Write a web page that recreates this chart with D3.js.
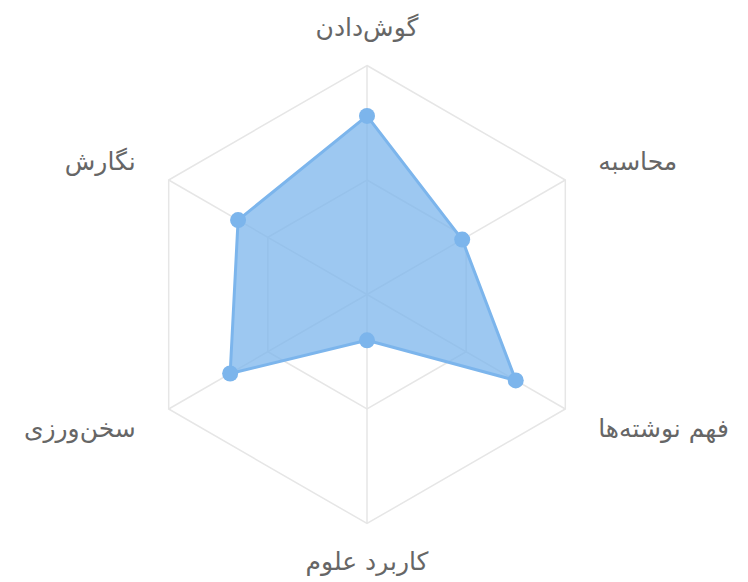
<!DOCTYPE html>
<html>
<head>
<meta charset="utf-8">
<script src="https://cdn.jsdelivr.net/npm/d3@7"></script>
<style>
  body { margin: 0; background: #fff; }
  .label { font-family: "DejaVu Sans", sans-serif; font-size: 25px; fill: #666; }
</style>
</head>
<body>
<div id="chart"></div>
<script>
const categories = ["گوش\u200cدادن", "محاسبه", "فهم نوشته\u200cها", "کاربرد علوم", "سخن\u200cورزی", "نگارش"];
const values = [78, 48, 75, 20, 69, 65];
const gridLevels = [50, 100];

const width = 748, height = 582;
const cx = 367, cy = 294.5, radius = 229;

const svg = d3.select("#chart").append("svg")
  .attr("width", width)
  .attr("height", height);

const g = svg.append("g").attr("transform", `translate(${cx},${cy})`);

const angle = d3.scalePoint()
  .domain(categories)
  .range([0, 2 * Math.PI * (categories.length - 1) / categories.length]);

const r = d3.scaleLinear().domain([0, 100]).range([0, radius]);

const line = d3.lineRadial()
  .angle(d => angle(d.cat))
  .radius(d => r(d.v))
  .curve(d3.curveLinearClosed);

// grid polygons
g.selectAll("path.grid")
  .data(gridLevels)
  .enter().append("path")
  .attr("class", "grid")
  .attr("d", lv => line(categories.map(c => ({ cat: c, v: lv }))))
  .attr("fill", "none")
  .attr("stroke", "#e6e6e6")
  .attr("stroke-width", 1.5);

// spokes
g.selectAll("line.spoke")
  .data(categories)
  .enter().append("line")
  .attr("class", "spoke")
  .attr("x1", 0).attr("y1", 0)
  .attr("x2", c => r(100) * Math.sin(angle(c)))
  .attr("y2", c => -r(100) * Math.cos(angle(c)))
  .attr("stroke", "#e6e6e6")
  .attr("stroke-width", 1.5);

const series = categories.map((c, i) => ({ cat: c, v: values[i] }));

g.append("path")
  .datum(series)
  .attr("d", line)
  .attr("fill", "#7cb5ec")
  .attr("fill-opacity", 0.75)
  .attr("stroke", "#7cb5ec")
  .attr("stroke-width", 3)
  .attr("stroke-linejoin", "round");

g.selectAll("circle.pt")
  .data(series)
  .enter().append("circle")
  .attr("class", "pt")
  .attr("cx", d => r(d.v) * Math.sin(angle(d.cat)))
  .attr("cy", d => -r(d.v) * Math.cos(angle(d.cat)))
  .attr("r", 8)
  .attr("fill", "#7cb5ec");

// labels
const labelR = radius + 38;
g.selectAll("text.label")
  .data(categories)
  .enter().append("text")
  .attr("class", "label")
  .attr("x", c => labelR * Math.sin(angle(c)))
  .attr("y", c => -labelR * Math.cos(angle(c)))
  .attr("dominant-baseline", "central")
  .attr("text-anchor", c => {
    const s = Math.sin(angle(c));
    return Math.abs(s) < 0.01 ? "middle" : (s > 0 ? "start" : "end");
  })
  .text(c => c);
</script>
</body>
</html>
